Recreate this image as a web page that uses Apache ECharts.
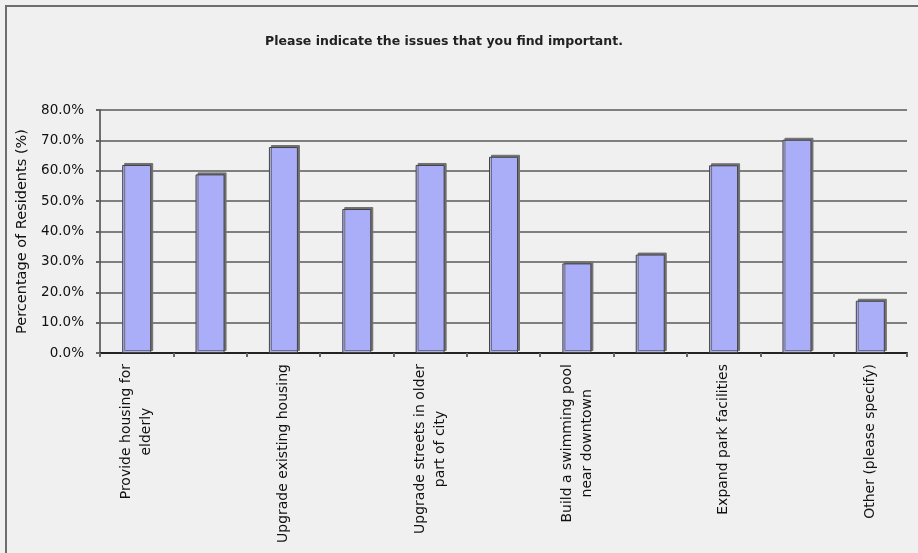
<!DOCTYPE html>
<html>
<head>
<meta charset="utf-8">
<style>
  html, body { margin: 0; padding: 0; background: #f0f0f0; }
  #chart { width: 918px; height: 553px; }
</style>
<script src="https://cdn.jsdelivr.net/npm/echarts@6/dist/echarts.min.js"></script>
</head>
<body>
<div id="chart"></div>
<script>
const titleText = 'Please indicate the issues that you find important.';
const yAxisName = 'Percentage of Residents (%)';
const categories = [
  'Provide housing for\nelderly',
  'Provide affordable housing',
  'Upgrade existing housing',
  'Improve roads',
  'Upgrade streets in older\npart of city',
  'Improve downtown',
  'Build a swimming pool\nnear downtown',
  'Build a community centre',
  'Expand park facilities',
  'Improve sidewalks',
  'Other (please specify)'
];
const values = [61.9, 58.8, 67.8, 47.4, 61.9, 64.6, 29.5, 32.4, 61.8, 70.2, 17.2];
const yTicks = [0, 10, 20, 30, 40, 50, 60, 70, 80];

const FONT = 'DejaVu Sans';
const chart = echarts.init(document.getElementById('chart'), null, { renderer: 'canvas' });
chart.setOption({
  backgroundColor: '#f0f0f0',
  animation: false,
  title: {
    text: titleText,
    left: 439,
    top: 30,
    textAlign: 'center',
    textStyle: { fontFamily: FONT, fontSize: 12.5, fontWeight: 'bold', color: '#222' }
  },
  graphic: [{
    type: 'rect',
    shape: { x: 6, y: 6, width: 1000, height: 1000 },
    style: { fill: 'none', stroke: '#6e6e6e', lineWidth: 2 },
    silent: true
  }],
  grid: { left: 100, right: 11, top: 110, bottom: 200, containLabel: false },
  xAxis: {
    type: 'category',
    data: categories,
    boundaryGap: true,
    axisLine: { lineStyle: { color: '#222', width: 2 } },
    axisTick: { show: true, interval: 0, length: 4, lineStyle: { color: '#666', width: 2 } },
    axisLabel: {
      interval: 1,
      rotate: 90,
      margin: 11,
      formatter: function (v) {
        return v.split('\n').map(function (s) { return '{c|' + s + '}'; }).join('\n');
      },
      rich: {
        c: { align: 'center', fontFamily: FONT, fontSize: 14, color: '#111', lineHeight: 20 }
      }
    }
  },
  yAxis: {
    type: 'value',
    min: yTicks[0],
    max: yTicks[yTicks.length - 1],
    interval: 10,
    name: yAxisName,
    nameLocation: 'middle',
    nameRotate: 90,
    nameGap: 64,
    nameTextStyle: { fontFamily: FONT, fontSize: 14.5, color: '#111' },
    axisLine: { show: true, lineStyle: { color: '#444', width: 1.5 } },
    axisTick: { show: true, length: 4, lineStyle: { color: '#666', width: 2 } },
    axisLabel: {
      margin: 16,
      fontFamily: FONT,
      fontSize: 13.5,
      color: '#111',
      formatter: function (v) { return v.toFixed(1) + '%'; }
    },
    splitLine: { show: true, lineStyle: { color: '#7f7f7f', width: 2 } }
  },
  series: [{
    type: 'bar',
    data: values,
    barWidth: 29,
    itemStyle: {
      color: '#aaaef8',
      borderColor: '#444',
      borderWidth: 1,
      shadowColor: '#707070',
      shadowOffsetX: 2,
      shadowOffsetY: -2,
      shadowBlur: 0
    }
  }]
});
</script>
</body>
</html>
